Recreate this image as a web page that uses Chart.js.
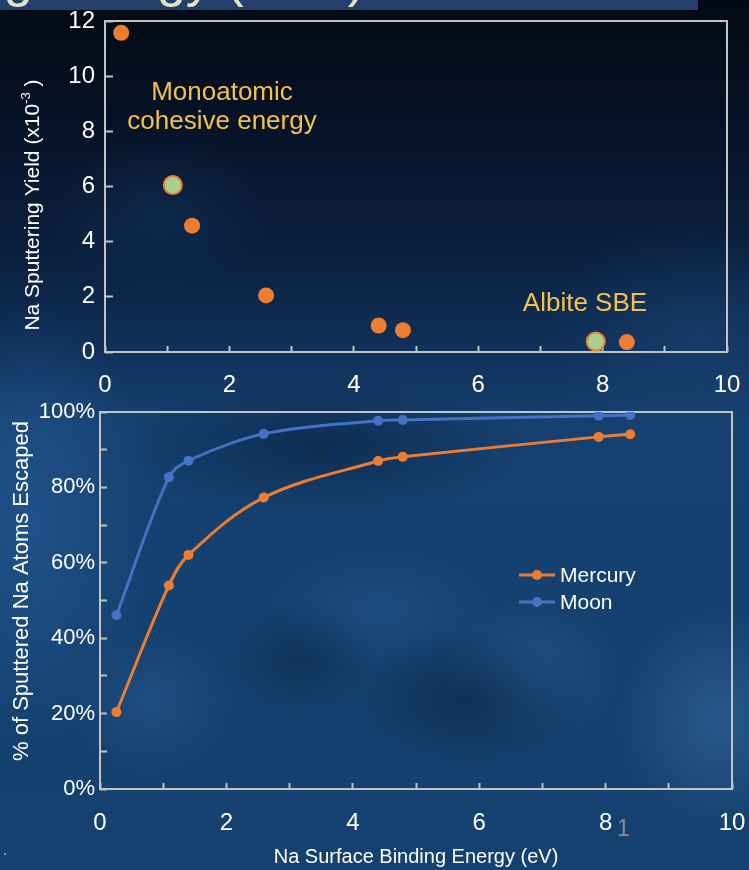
<!DOCTYPE html>
<html>
<head>
<meta charset="utf-8">
<script src="https://cdn.jsdelivr.net/npm/chart.js@4.4.1/dist/chart.umd.min.js"></script>
<style>
  html, body { margin: 0; padding: 0; }
  body {
    width: 749px; height: 870px; position: relative; overflow: hidden;
    font-family: 'Liberation Sans', Arial, sans-serif;
    background:
      radial-gradient(ellipse 110px 80px at 160px 215px, rgba(24,64,112,0.35), transparent),
      radial-gradient(ellipse 160px 110px at 700px 330px, rgba(34,84,136,0.35), transparent),
      radial-gradient(ellipse 120px 220px at 30px 520px, rgba(44,104,170,0.45), transparent),
      radial-gradient(ellipse 200px 70px at 320px 445px, rgba(6,22,46,0.45), transparent),
      radial-gradient(ellipse 120px 70px at 470px 700px, rgba(6,22,46,0.4), transparent),
      radial-gradient(ellipse 80px 60px at 300px 660px, rgba(6,22,46,0.3), transparent),
      radial-gradient(ellipse 90px 70px at 530px 670px, rgba(50,105,165,0.35), transparent),
      radial-gradient(ellipse 80px 70px at 150px 700px, rgba(50,105,165,0.3), transparent),
      radial-gradient(ellipse 100px 110px at 720px 720px, rgba(70,125,180,0.4), transparent),
      radial-gradient(ellipse 110px 60px at 380px 610px, rgba(45,100,160,0.3), transparent),
      linear-gradient(to bottom, #040a14 0px, #061226 120px, #0a1f3d 250px, #10305a 350px, #15406f 420px, #14416f 870px);
  }
  #band { position: absolute; left: 0; top: 0; width: 698px; height: 10px; background: #243f6b; }
  #slideTitle {
    position: absolute; right: 384px; top: -48px; font-size: 52px; line-height: 1;
    color: #dfe6c3; white-space: nowrap;
  }
  canvas { position: absolute; left: 0; }
  #yieldChart { top: 0; }
  #escapeChart { top: 396px; }
  .note { position: absolute; color: #f2c14e; font-size: 26px; line-height: 29px; text-align: center; white-space: nowrap; }
  #slideNum { position: absolute; left: 617px; top: 815px; color: #8c8c8c; font-size: 23px; }
  #dot { position: absolute; left: 3px; top: 842px; color: #ddd; font-size: 14px; }
</style>
</head>
<body>
<div id="band"></div>
<div id="slideTitle">Surface Binding Energy (SBE)</div>
<canvas id="yieldChart" width="749" height="400"></canvas>
<canvas id="escapeChart" width="749" height="474"></canvas>
<div class="note" style="left:117px; top:77px; width:210px;">Monoatomic<br>cohesive energy</div>
<div class="note" style="left:505px; top:288px; width:160px;">Albite SBE</div>
<div id="slideNum">1</div>
<div id="dot">.</div>
<script>
// Na surface binding energy (eV), shared by both panels
const sbeEnergy = [0.26, 1.09, 1.40, 2.59, 4.40, 4.79, 7.89, 8.39];
// top panel: Na sputtering yield (x10^-3)
const yieldVals = [11.57, 6.05, 4.58, 2.05, 0.96, 0.79, 0.38, 0.36];
const isReference = [false, true, false, false, false, false, true, false];
// bottom panel: % of sputtered Na atoms escaped
const seriesNames = ['Mercury', 'Moon'];
const mercuryEscape = [20.4, 54.0, 62.1, 77.3, 87.0, 88.1, 93.4, 94.1];
const moonEscape = [46.1, 82.7, 87.1, 94.2, 97.7, 97.9, 99.0, 99.2];
const energyTicks = [0, 2, 4, 6, 8, 10];
const yieldTicks = [0, 2, 4, 6, 8, 10, 12];
const escapeTicks = [0, 20, 40, 60, 80, 100];

const ORANGE = '#ed7d31';
const BLUE = '#4472c4';
const GREEN = '#a9d18e';
const AXIS = '#c3c3c3';
const FONT = "'Liberation Sans', Arial, sans-serif";

// box round the plot area
const framePlugin = {
  id: 'frame',
  beforeDatasetsDraw(chart) {
    const { ctx, chartArea: a } = chart;
    ctx.save();
    ctx.strokeStyle = AXIS;
    ctx.lineWidth = 2;
    ctx.strokeRect(a.left, a.top, a.right - a.left, a.bottom - a.top);
    ctx.restore();
  }
};

// rotated y title, drawn in parts so the exponent can be raised
const sideTitlePlugin = {
  id: 'sideTitle',
  afterDraw(chart, args, opts) {
    if (!opts.parts) return;
    const ctx = chart.ctx;
    ctx.save();
    ctx.translate(opts.x, opts.y);
    ctx.rotate(-Math.PI / 2);
    ctx.fillStyle = '#fff';
    ctx.textBaseline = 'middle';
    let total = 0;
    opts.parts.forEach(p => {
      ctx.font = p.size + 'px ' + FONT;
      total += ctx.measureText(p.text).width;
    });
    let x = -total / 2;
    opts.parts.forEach(p => {
      ctx.font = p.size + 'px ' + FONT;
      ctx.fillText(p.text, x, -(p.rise || 0));
      x += ctx.measureText(p.text).width;
    });
    ctx.restore();
  }
};

// legend with a line and a marker in it, like the office chart
const lineLegendPlugin = {
  id: 'lineLegend',
  afterDraw(chart, args, opts) {
    if (!opts.x) return;
    const ctx = chart.ctx;
    ctx.save();
    chart.data.datasets.forEach((ds, i) => {
      const y = opts.y + i * opts.step;
      ctx.strokeStyle = ds.borderColor;
      ctx.lineWidth = 3;
      ctx.beginPath();
      ctx.moveTo(opts.x, y);
      ctx.lineTo(opts.x + 36, y);
      ctx.stroke();
      ctx.fillStyle = ds.borderColor;
      ctx.beginPath();
      ctx.arc(opts.x + 18, y, 5, 0, Math.PI * 2);
      ctx.fill();
      ctx.fillStyle = '#fff';
      ctx.font = '21px ' + FONT;
      ctx.textBaseline = 'middle';
      ctx.fillText(ds.label, opts.x + 41, y + 1);
    });
    ctx.restore();
  }
};

Chart.register(framePlugin, sideTitlePlugin, lineLegendPlugin);

function tickGrid(len) {
  return { drawOnChartArea: false, drawTicks: true, tickLength: -len, tickColor: AXIS, tickWidth: 2 };
}
// fixed axis sizes, and no extra room for the end labels
function fixX(h) {
  return s => { s.height = h; s.paddingLeft = 0; s.paddingRight = 0; };
}
function fixY(w) {
  return s => { s.width = w; s.paddingTop = 0; s.paddingBottom = 0; };
}

new Chart(document.getElementById('yieldChart'), {
  type: 'scatter',
  data: {
    datasets: [{
      label: 'Na yield',
      data: sbeEnergy.map((x, i) => ({ x: x, y: yieldVals[i] })),
      backgroundColor: isReference.map(r => r ? GREEN : ORANGE),
      borderColor: ORANGE,
      borderWidth: isReference.map(r => r ? 2 : 0),
      pointRadius: isReference.map(r => r ? 9 : 8)
    }]
  },
  options: {
    responsive: false,
    animation: false,
    events: [],
    layout: { padding: { top: 21, right: 22, left: 0, bottom: 0 } },
    plugins: {
      legend: { display: false },
      tooltip: { enabled: false },
      sideTitle: {
        x: 33, y: 205,
        parts: [
          { text: 'Na Sputtering Yield (x10', size: 21 },
          { text: '-3', size: 13, rise: 7 },
          { text: ' )', size: 21 }
        ]
      }
    },
    scales: {
      x: {
        type: 'linear', min: 0, max: 10,
        grid: tickGrid(6),
        border: { display: false },
        afterFit: fixX(48),
        ticks: {
          stepSize: 1, autoSkip: false, maxRotation: 0, padding: 25,
          color: '#fff', font: { family: FONT, size: 24 },
          callback: v => energyTicks.includes(v) ? String(v) : ''
        }
      },
      y: {
        min: 0, max: 12,
        grid: tickGrid(8),
        border: { display: false },
        afterFit: fixY(105),
        ticks: {
          stepSize: 2, padding: 18,
          color: '#fff', font: { family: FONT, size: 24 },
          callback: v => yieldTicks.includes(v) ? String(v) : ''
        }
      }
    }
  }
});

const escapeSeries = [mercuryEscape, moonEscape];
const seriesColors = [ORANGE, BLUE];

new Chart(document.getElementById('escapeChart'), {
  type: 'line',
  data: {
    datasets: seriesNames.map((name, k) => ({
      label: name,
      data: sbeEnergy.map((x, i) => ({ x: x, y: escapeSeries[k][i] })),
      borderColor: seriesColors[k],
      backgroundColor: seriesColors[k],
      borderWidth: 3,
      pointRadius: 5,
      pointBorderWidth: 0,
      tension: 0.35,
      fill: false
    }))
  },
  options: {
    responsive: false,
    animation: false,
    events: [],
    layout: { padding: { top: 16, right: 17, left: 0, bottom: 0 } },
    plugins: {
      legend: { display: false },
      tooltip: { enabled: false },
      lineLegend: { x: 519, y: 179, step: 27 },
      sideTitle: {
        x: 22, y: 195,
        parts: [{ text: '% of Sputtered Na Atoms Escaped', size: 22 }]
      }
    },
    scales: {
      x: {
        type: 'linear', min: 0, max: 10,
        grid: tickGrid(6),
        border: { display: false },
        afterFit: fixX(81),
        title: {
          display: true, text: 'Na Surface Binding Energy (eV)', color: '#fff',
          font: { family: FONT, size: 20 }, padding: { top: 0, bottom: 1 }
        },
        ticks: {
          stepSize: 1, autoSkip: false, maxRotation: 0, padding: 26,
          color: '#fff', font: { family: FONT, size: 24 },
          callback: v => energyTicks.includes(v) ? String(v) : ''
        }
      },
      y: {
        min: 0, max: 100,
        grid: tickGrid(7),
        border: { display: false },
        afterFit: fixY(100),
        ticks: {
          stepSize: 10, padding: 12,
          color: '#fff', font: { family: FONT, size: 22 },
          callback: v => escapeTicks.includes(v) ? v + '%' : ''
        }
      }
    }
  }
});
</script>
</body>
</html>
